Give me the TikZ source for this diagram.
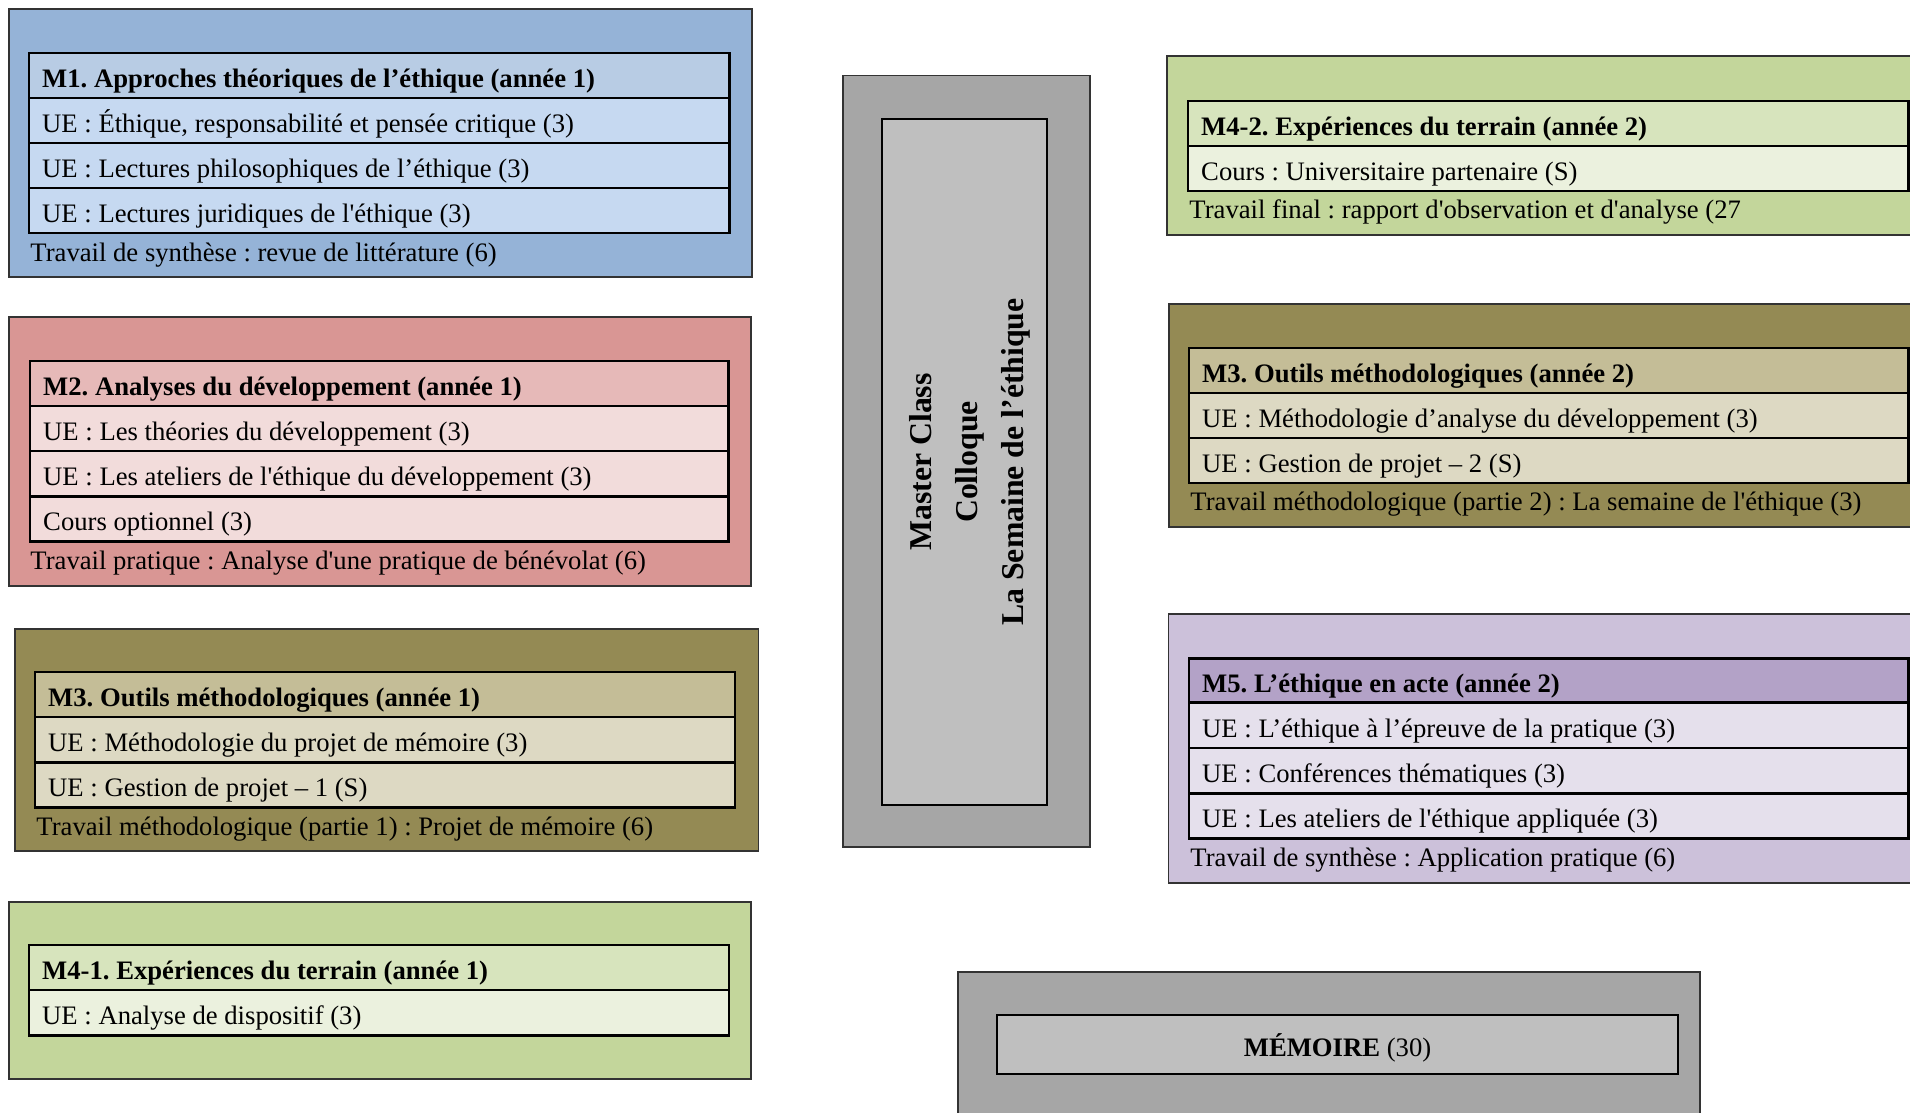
\documentclass[tikz,border=0pt]{standalone}
\usepackage{fontspec}
\setmainfont{Liberation Serif}[Ligatures=TeXOff]
\usetikzlibrary{fit}
\frenchspacing
\definecolor{mAo}{HTML}{95B3D7}\definecolor{mAh}{HTML}{B8CCE4}\definecolor{mAr}{HTML}{C6D9F1}
\definecolor{mBo}{HTML}{D99694}\definecolor{mBh}{HTML}{E6B9B8}\definecolor{mBr}{HTML}{F2DCDB}
\definecolor{mCo}{HTML}{948A54}\definecolor{mCh}{HTML}{C4BD97}\definecolor{mCr}{HTML}{DDD9C3}
\definecolor{mDo}{HTML}{C3D69B}\definecolor{mDh}{HTML}{D7E4BD}\definecolor{mDr}{HTML}{EBF1DE}
\definecolor{mEo}{HTML}{CCC1DA}\definecolor{mEh}{HTML}{B3A2C7}\definecolor{mEr}{HTML}{E5E0EC}
\definecolor{grO}{HTML}{A6A6A6}\definecolor{grI}{HTML}{BFBFBF}
\tikzset{
  outerb/.style={draw=black!80, line width=0.8pt, inner sep=0pt},
  cellb/.style={draw=black, line width=1.1pt, inner sep=0pt},
  lbl/.style={anchor=base west, inner sep=0pt},
}
\newcommand\obox[6]{\node[outerb, fill=#6, fit={(#2,#3)(#4,#5)}] (#1) {};}
\newcommand\crow[7]{\node[cellb, fill=#6, fit={(#2,#3)(#4,#5)}] (#1) {};
  \node[lbl] (#1t) at ([xshift=6.3pt,yshift=-5.3pt]#1.west) {#7};}
\newcommand\foot[4]{\node[lbl] (#1) at ([yshift=-4.2pt]#2,#3) {#4};}
\begin{document}
\begin{tikzpicture}[x=0.45pt,y=-0.45pt, font=\fontsize{12}{14}\selectfont]
\clip (0,0) rectangle (1910,1112);
\fill[white] (0,0) rectangle (1910,1112);
% M1
\obox{mA}{9}{9}{752}{277}{mAo}
\crow{mAa}{29}{53}{729.5}{98}{mAh}{\textbf{M1. Approches théoriques de l’éthique (année 1)}}
\crow{mAb}{29}{98}{729.5}{143}{mAr}{UE : Éthique, responsabilité et pensée critique (3)}
\crow{mAc}{29}{143}{729.5}{188}{mAr}{UE : Lectures philosophiques de l’éthique (3)}
\crow{mAd}{29}{188}{729.5}{233}{mAr}{UE : Lectures juridiques de l'éthique (3)}
\foot{mAf}{30}{252}{Travail de synthèse : revue de littérature (6)}
% M2
\obox{mB}{9}{317}{751}{586}{mBo}
\crow{mBa}{30}{361}{728.5}{406}{mBh}{\textbf{M2. Analyses du développement (année 1)}}
\crow{mBb}{30}{406}{728.5}{451}{mBr}{UE : Les théories du développement (3)}
\crow{mBc}{30}{451}{728.5}{496.5}{mBr}{UE : Les ateliers de l'éthique du développement (3)}
\crow{mBd}{30}{496.5}{728.5}{541.5}{mBr}{Cours optionnel (3)}
\foot{mBf}{30}{560}{Travail pratique : Analyse d'une pratique de bénévolat (6)}
% M3 (annee 1)
\obox{mC}{15}{629}{758.5}{851}{mCo}
\crow{mCa}{35}{672}{735}{717}{mCh}{\textbf{M3. Outils méthodologiques (année 1)}}
\crow{mCb}{35}{717}{735}{762.5}{mCr}{UE : Méthodologie du projet de mémoire (3)}
\crow{mCc}{35}{762.5}{735}{807.7}{mCr}{UE : Gestion de projet – 1 (S)}
\foot{mCf}{36}{826}{Travail méthodologique (partie 1) : Projet de mémoire (6)}
% M4-1
\obox{mD}{9}{902}{751}{1079}{mDo}
\crow{mDa}{29}{945}{729}{990}{mDh}{\textbf{M4-1. Expériences du terrain (année 1)}}
\crow{mDb}{29}{990}{729}{1035.5}{mDr}{UE : Analyse de dispositif (3)}
% centre
\obox{gA}{843}{75.5}{1090}{847}{grO}
\node[cellb, fill=grI, fit={(882,119)(1047,805)}] (gAi) {};
\node[rotate=90, align=center, inner sep=0pt, font={\bfseries\fontsize{14.3}{20.7}\selectfont}] (gAt) at (970,462) {Master Class\\Colloque\\La Semaine de l’éthique};
% M4-2
\obox{mF}{1167}{56}{1930}{235}{mDo}
\crow{mFa}{1188}{101}{1908.5}{146}{mDh}{\textbf{M4-2. Expériences du terrain (année 2)}}
\crow{mFb}{1188}{146}{1908.5}{191}{mDr}{Cours : Universitaire partenaire (S)}
\foot{mFf}{1189}{209}{Travail final : rapport d'observation et d'analyse (27}
% M3 (annee 2)
\obox{mG}{1169}{304}{1930}{527}{mCo}
\crow{mGa}{1189}{348}{1908.5}{393}{mCh}{\textbf{M3. Outils méthodologiques (année 2)}}
\crow{mGb}{1189}{393}{1908.5}{438}{mCr}{UE : Méthodologie d’analyse du développement (3)}
\crow{mGc}{1189}{438}{1908.5}{483}{mCr}{UE : Gestion de projet – 2 (S)}
\foot{mGf}{1190}{501}{Travail méthodologique (partie 2) : La semaine de l'éthique (3)}
% M5
\obox{mE}{1168.5}{614}{1930}{883}{mEo}
\crow{mEa}{1189}{658.3}{1908.5}{702.7}{mEh}{\textbf{M5. L’éthique en acte (année 2)}}
\crow{mEb}{1189}{702.7}{1908.5}{748}{mEr}{UE : L’éthique à l’épreuve de la pratique (3)}
\crow{mEc}{1189}{748}{1908.5}{793.3}{mEr}{UE : Conférences thématiques (3)}
\crow{mEd}{1189}{793.3}{1908.5}{838.3}{mEr}{UE : Les ateliers de l'éthique appliquée (3)}
\foot{mEf}{1190}{857.3}{Travail de synthèse : Application pratique (6)}
% MEMOIRE
\obox{gB}{958}{972}{1700}{1130}{grO}
\node[cellb, fill=grI, fit={(997,1015)(1678,1074)}] (gBi) {};
\node[inner sep=0pt, anchor=base] (gBt) at ([yshift=-5.3pt]gBi.center) {\textbf{MÉMOIRE} (30)};
\end{tikzpicture}
\end{document}
